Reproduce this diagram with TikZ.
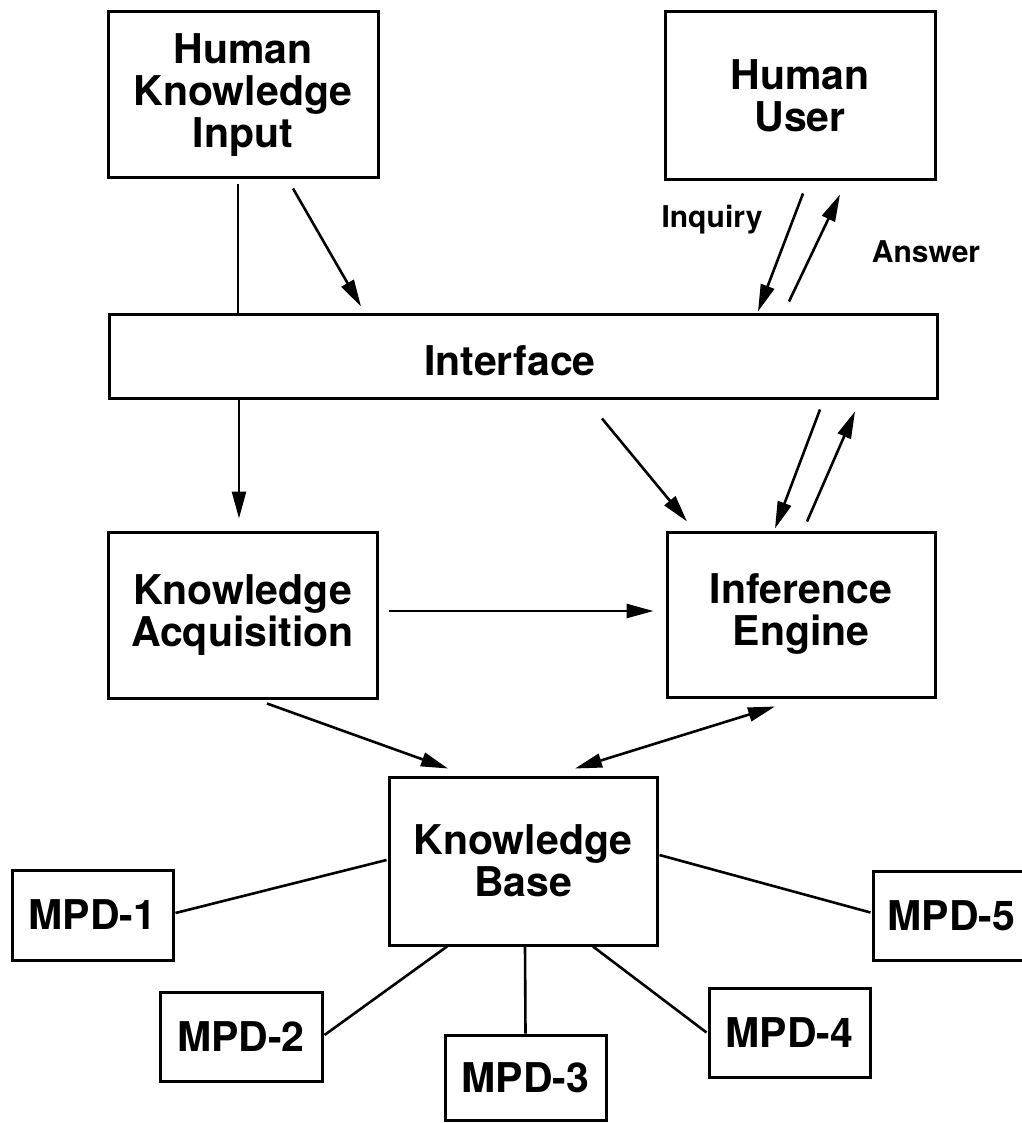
\documentclass[tikz,border=0pt]{standalone}
\usepackage{fontspec}
\setmainfont{TeX Gyre Heros}
\usetikzlibrary{arrows.meta,calc}
\begin{document}
\begin{tikzpicture}[x=1pt,y=-1pt,
  box/.style={draw,line width=3pt,inner sep=0pt,align=center,
              font=\fontsize{41}{42}\selectfont\bfseries},
  bigtext/.style={font=\fontsize{41}{42}\selectfont\bfseries,inner sep=0pt},
  conn/.style={line width=2.6pt},
  tip/.tip={Triangle[length=27pt,width=14pt]},
  arr/.style={conn,-tip},
  darr/.style={conn,tip-tip},
  lbl/.style={font=\fontsize{30}{32}\selectfont\bfseries,inner sep=0pt}]
\useasboundingbox (0,0) rectangle (1021,1123);

% boxes
\node[box,minimum width=270,minimum height=166] (hki) at (243,95) {Human\\Knowledge\\Input};
\node[box,minimum width=270,minimum height=168] (hu)  at (800,96) {Human\\User};
\node[box,minimum width=828,minimum height=84,
      label={[bigtext,xshift=-13pt,yshift=-5pt]center:Interface}] (if) at (523,356) {};
\node[box,minimum width=269,minimum height=166] (ka) at (242.5,615) {Knowledge\\Acquisition};
\node[box,minimum width=268,minimum height=165] (ie) at (801,614.5) {Inference\\Engine};
\node[box,minimum width=268,minimum height=168] (kb) at (523,861) {Knowledge\\Base};
\node[box,minimum width=161,minimum height=90]  (m1) at (92.5,915) {MPD-1};
\node[box,minimum width=162,minimum height=89]  (m2) at (241,1036.5) {MPD-2};
\node[box,minimum width=161,minimum height=85]  (m3) at (525.5,1077.5) {MPD-3};
\node[box,minimum width=161,minimum height=89]  (m4) at (789.5,1032.5) {MPD-4};
\node[box,minimum width=157,minimum height=89]  (m5) at (951.5,915.5) {MPD-5};

% labels on the user link
\node[lbl] (inq) at (712,220) {Inquiry};
\node[lbl] (ans) at (926,252) {Answer};

% knowledge input
\draw[conn] ($(hki.south)+(-5,5)$) -- ($(if.north)+(-285,0)$);
\draw[arr]  ($(hki.south)+(50,9)$) -- ($(if.north)+(-162,-6)$);

% user dialogue
\draw[arr] ($(hu.south)+(3,12)$) -- ($(if.north)+(235,-1)$);
\draw[arr] ($(if.north)+(266,-11)$) -- ($(hu.south)+(40,13)$);

% interface to lower modules
\draw[arr] ($(if.south)+(-284,0)$) -- ($(ka.north)+(-3.5,-12)$);
\draw[arr] ($(if.south)+(79,19)$) -- ($(ie.north)+(-114,-9)$);
\draw[arr] ($(if.south)+(297,10)$) -- ($(ie.north)+(-26,-2)$);
\draw[arr] ($(ie.north)+(6,-9)$) -- ($(if.south)+(332,12)$);

% acquisition, inference and knowledge base
\draw[arr]  ($(ka.east)+(10,-4)$) -- ($(ie.west)+(-12,-3.5)$);
\draw[arr]  ($(ka.south)+(24.5,4)$) -- ($(kb.north)+(-75,-7)$);
\draw[darr] ($(kb.north)+(52,-7)$) -- ($(ie.south)+(-26,8)$);

% knowledge base to the MPD modules
\draw[conn] ($(m1.east)+(1,-2)$) -- ($(kb.west)+(-1,-1)$);
\draw[conn] ($(m2.east)+(1,-1.5)$) -- ($(kb.south)+(-76,0)$);
\draw[conn] ($(kb.south)+(2,0)$) -- (m3.north);
\draw[conn] ($(kb.south)+(70,0)$) -- ($(m4.west)+(-1,0)$);
\draw[conn] ($(kb.east)+(1,-6)$) -- ($(m5.west)+(-1,-3)$);
\end{tikzpicture}
\end{document}
